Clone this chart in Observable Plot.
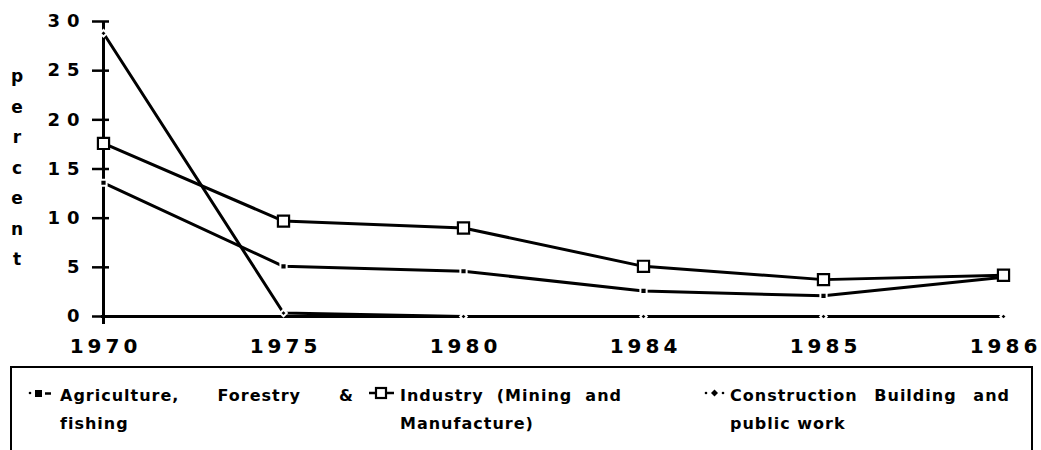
<!DOCTYPE html>
<html><head><meta charset="utf-8">
<script src="https://cdn.jsdelivr.net/npm/d3@7"></script>
<script src="https://cdn.jsdelivr.net/npm/@observablehq/plot@0.6"></script>
<style>
html,body{margin:0;padding:0;background:#fff;}
body{width:1041px;height:450px;overflow:hidden;position:relative;font-family:"DejaVu Sans",sans-serif;font-weight:bold;color:#000;}
#chart{position:absolute;left:0;top:0;}
#ylabel{position:absolute;left:7px;top:61px;width:20px;text-align:center;font-size:17px;line-height:30.5px;}
#legendbox{position:absolute;left:10px;top:366px;width:1023px;height:120px;border:2px solid #000;box-sizing:border-box;}
.txt{position:absolute;top:382px;font-size:16px;line-height:28px;letter-spacing:1px;text-align:justify;}
.mk{position:absolute;top:386px;}
svg [aria-label="y-axis tick label"] text{letter-spacing:7px;}
svg [aria-label="x-axis tick label"] text{letter-spacing:4px;}
</style>
</head><body>
<div id="chart"></div>
<div id="ylabel"></div>
<div id="legendbox"></div>
<div id="legend"></div>
<script>
const years = ["1970","1975","1980","1984","1985","1986"];
const agriculture = [13.6, 5.1, 4.6, 2.6, 2.1, 4.0];
const industry = [17.6, 9.7, 9.0, 5.1, 3.75, 4.2];
const construction = [28.8, 0.35, 0, 0, 0, 0];
const yTicks = [0, 5, 10, 15, 20, 25, 30];
const yLabel = "percent";
const seriesNames = ["Agriculture, Forestry & fishing", "Industry (Mining and Manufacture)", "Construction Building and public work"];

const rows = s => years.map((y, i) => ({year: y, value: s[i]}));
const ag = rows(agriculture), ind = rows(industry), con = rows(construction);

const plot = Plot.plot({
  width: 1041, height: 366,
  marginLeft: 101, marginRight: 36, marginTop: 21, marginBottom: 50,
  style: {fontFamily: "DejaVu Sans", fontWeight: "bold", color: "#000", background: "#fff", overflow: "visible"},
  x: {type: "point", domain: years, padding: 0},
  y: {domain: [0, 30]},
  marks: [
    Plot.axisY({ticks: yTicks, tickSize: 17, dx: 8, tickPadding: 6, fontSize: 18, strokeWidth: 2.5, label: null}),
    Plot.axisX({tickSize: 0, tickPadding: 22, fontSize: 20, label: null, dx: 2}),
    Plot.ruleX([years[0]], {insetBottom: -8, strokeWidth: 3}),
    Plot.ruleY([0], {strokeWidth: 3}),
    Plot.line(con, {x: "year", y: "value", strokeWidth: 3, stroke: "#000"}),
    Plot.line(ag, {x: "year", y: "value", strokeWidth: 3, stroke: "#000"}),
    Plot.line(ind, {x: "year", y: "value", strokeWidth: 3, stroke: "#000"}),
    Plot.dot(con, {x: "year", y: "value", symbol: "diamond2", r: 3, fill: "#000", stroke: "#fff", strokeWidth: 2}),
    Plot.dot(ag, {x: "year", y: "value", symbol: "square", r: 3.5, fill: "#000", stroke: "#fff", strokeWidth: 2}),
    Plot.dot(ind, {x: "year", y: "value", symbol: "square", r: 6.3, fill: "#fff", stroke: "#000", strokeWidth: 2.2})
  ]
});
document.getElementById("chart").appendChild(plot);

document.getElementById("ylabel").innerHTML = yLabel.split("").join("<br>");

const markers = [
  `<svg width="28" height="16"><circle cx="3" cy="7" r="1.3" fill="#000"/><rect x="8" y="4" width="7" height="7" fill="#000"/><line x1="18" y1="7.5" x2="24" y2="7.5" stroke="#000" stroke-width="2.5"/></svg>`,
  `<svg width="28" height="16"><line x1="1" y1="7" x2="26" y2="7" stroke="#000" stroke-width="2.5"/><rect x="8" y="2" width="10" height="10" fill="#fff" stroke="#000" stroke-width="2.2"/></svg>`,
  `<svg width="28" height="16"><circle cx="3" cy="7" r="1.3" fill="#000"/><path d="M11.5 3.5 L15 7 L11.5 10.5 L8 7 Z" fill="#000"/><circle cx="20" cy="7" r="1.3" fill="#000"/></svg>`
];
const mkX = [27, 368, 703];
const txtX = [60, 400, 730];
const txtW = [294, 222, 280];
const leg = document.getElementById("legend");
seriesNames.forEach((name, i) => {
  const m = document.createElement("div");
  m.className = "mk"; m.style.left = mkX[i] + "px"; m.innerHTML = markers[i];
  leg.appendChild(m);
  const t = document.createElement("div");
  t.className = "txt"; t.style.left = txtX[i] + "px"; t.style.width = txtW[i] + "px";
  t.textContent = name;
  leg.appendChild(t);
});
</script>
</body></html>
